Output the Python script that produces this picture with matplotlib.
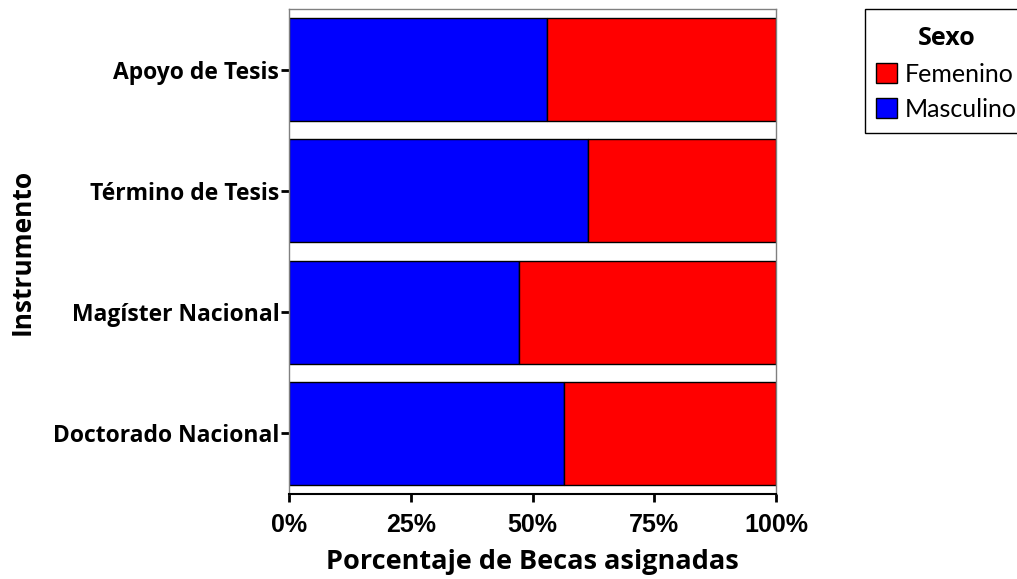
import matplotlib
matplotlib.use('Agg')
import matplotlib.pyplot as plt
from matplotlib.patches import Patch, Rectangle
from matplotlib.ticker import FuncFormatter

# Datos (porcentaje de becas, de arriba hacia abajo)
instrumentos = ['Apoyo de Tesis', 'Término de Tesis', 'Magíster Nacional', 'Doctorado Nacional']
masculino = [53.0, 61.3, 47.2, 56.5]
femenino = [100 - m for m in masculino]

AZUL = '#0000ff'
ROJO = '#ff0000'
W, H = 1017, 579

fig = plt.figure(figsize=(W / 100, H / 100), dpi=100)
ax = fig.add_axes([289 / W, 1 - 494 / H, 487 / W, 485 / H])

pos = list(range(len(instrumentos)))
ax.barh(pos, masculino, height=0.85, color=AZUL, edgecolor='black', linewidth=1)
ax.barh(pos, femenino, left=masculino, height=0.85, color=ROJO, edgecolor='black', linewidth=1)

ax.set_xlim(0, 100)
ax.set_ylim(len(instrumentos) - 0.5, -0.5)
ax.set_yticks(pos)
ax.set_yticklabels(instrumentos, fontfamily='Open Sans', fontweight='bold', fontsize=16.5)
ax.set_xticks([0, 25, 50, 75, 100])
ax.xaxis.set_major_formatter(FuncFormatter(lambda v, _: f'{v:.0f}%'))
for lbl in ax.get_xticklabels():
    lbl.set_fontfamily('Liberation Sans')
    lbl.set_fontweight('bold')
    lbl.set_fontsize(18)

ax.tick_params(axis='both', direction='out', length=6, width=2, color='black')
ax.tick_params(axis='y', pad=1)
ax.tick_params(axis='x', pad=8)

for s in ['top', 'left', 'right']:
    ax.spines[s].set_color('#808080')
    ax.spines[s].set_linewidth(1)
ax.spines['bottom'].set_color('black')
ax.spines['bottom'].set_linewidth(1.5)

ax.set_xlabel('Porcentaje de Becas asignadas', fontfamily='Open Sans', fontweight='bold', fontsize=19.5, labelpad=8)
ax.set_ylabel('Instrumento', fontfamily='Open Sans', fontweight='bold', fontsize=19)
ax.yaxis.set_label_coords((36 - 289) / 487, 0.5)

# leyenda: marco dibujado aparte
fig.patches.append(Rectangle((865 / W, 1 - 133 / H), 170 / W, 124 / H, transform=fig.transFigure,
                             facecolor='white', edgecolor='black', linewidth=1, zorder=0))
handles = [Patch(facecolor=ROJO, edgecolor='black', label='Femenino'),
           Patch(facecolor=AZUL, edgecolor='black', label='Masculino')]
leg = fig.legend(handles=handles, title='Sexo', loc='upper left',
                 bbox_to_anchor=(876 / W, 1 - 26 / H),
                 prop={'family': 'Lato', 'size': 18},
                 title_fontproperties={'family': 'Open Sans', 'weight': 'bold', 'size': 18},
                 frameon=False, handlelength=0.85, handleheight=0.85,
                 handletextpad=0.3, borderpad=0, labelspacing=0.48, borderaxespad=0)

fig.savefig('out.png', dpi=100)
